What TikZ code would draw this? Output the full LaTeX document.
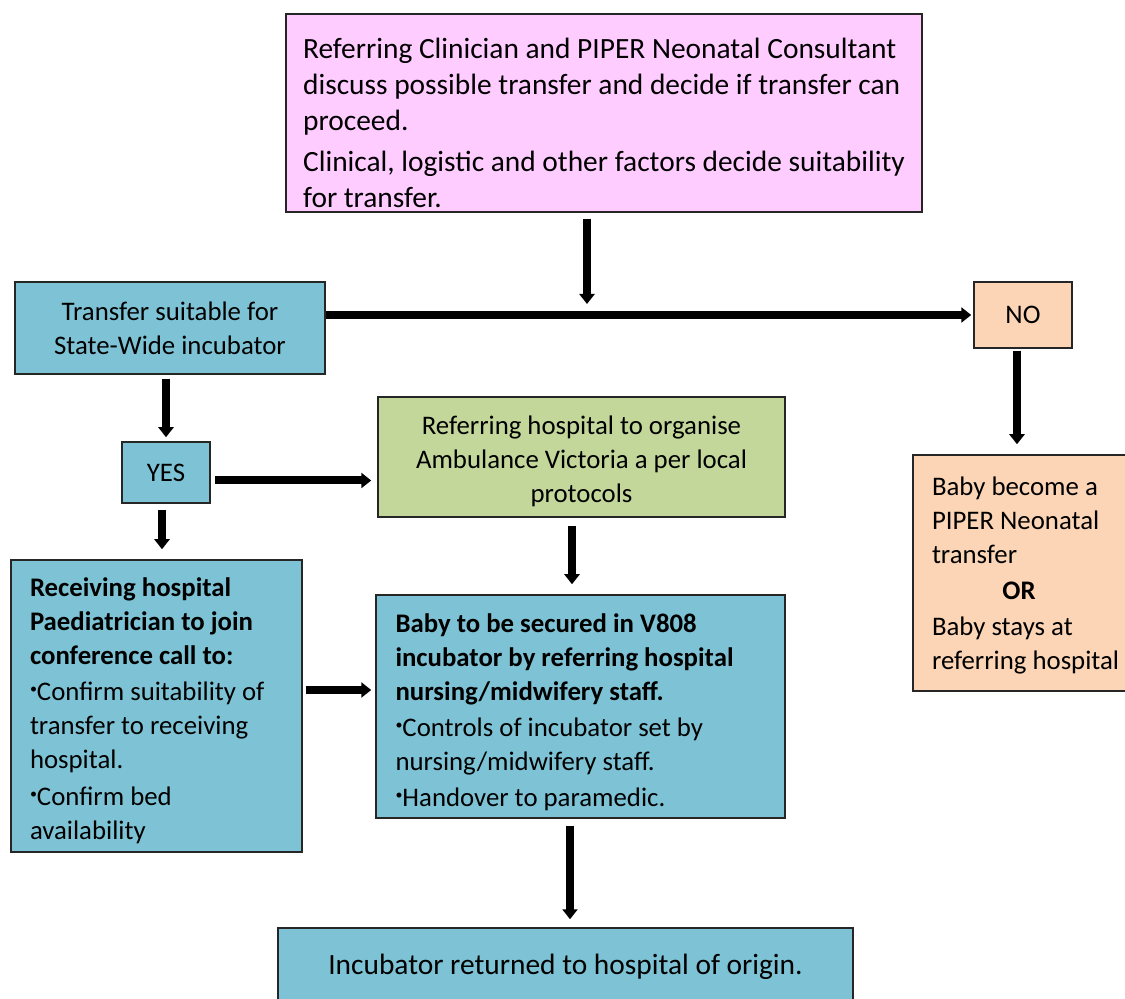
\documentclass[tikz,border=0pt]{standalone}
\usepackage{fontspec}
\setmainfont{Carlito}
\usetikzlibrary{arrows.meta}
\definecolor{pinkfill}{HTML}{FFCCFF}
\definecolor{bluefill}{HTML}{7DC3D5}
\definecolor{greenfill}{HTML}{C4D79B}
\definecolor{peachfill}{HTML}{FBD5B5}
\hyphenpenalty=10000
\newcommand{\bulletmark}{\raisebox{0.55ex}{\scriptsize\textbullet}}
\newcommand{\natspace}{\spaceskip=0pt\xspaceskip=0pt\relax}
\tikzset{
  box/.style={draw=black!85, line width=0.75pt, inner sep=0pt,
    font=\fontsize{13.4}{17}\selectfont},
  bigtext/.style={font=\fontsize{14.7}{18}\selectfont},
  leftbox/.style={box, align=left, inner xsep=9.5pt, execute at begin node=\natspace},
  arr/.style={line width=4pt, -{Triangle[width=7.5pt,length=5pt]}},
}
\begin{document}
\begin{tikzpicture}[x=0.5pt,y=-0.5pt]
        \useasboundingbox (0,0) rectangle (1125,999);
        \node[box, bigtext, align=left, fill=pinkfill, minimum width=318pt, minimum height=99pt] (consult) at (604,113)
            {\rule{0pt}{20pt}Referring Clinician and PIPER Neonatal Consultant\\discuss possible transfer and decide if transfer can\\proceed.\\[2.5pt]Clinical, logistic and other factors decide suitability\\for transfer.};
        \node[box, fill=bluefill, align=center, minimum width=155pt, minimum height=46pt] (suitable) at (170,328)
            {Transfer suitable for\\State-Wide incubator};
        \node[box, fill=peachfill, minimum width=49pt, minimum height=33pt] (no) at (1023,315) {NO};
        \node[box, fill=bluefill, minimum width=44pt, minimum height=30.5pt] (yes) at (166,472.5) {YES};
        \node[box, fill=greenfill, align=center, minimum width=203.5pt, minimum height=60pt] (ambulance) at (581.5,457)
            {\rule{0pt}{14pt}Referring hospital to organise\\Ambulance Victoria a per local\\protocols};
        \node[leftbox, fill=bluefill, minimum width=145.5pt, minimum height=146pt, text width=126.5pt] (receiving) at (156.5,706)
            {\rule{0pt}{14pt}\textbf{Receiving hospital}\\\textbf{Paediatrician to join}\\\textbf{conference call to:}\\[1pt]\bulletmark Confirm suitability of\\transfer to receiving\\hospital.\\[1.5pt]\bulletmark Confirm bed\\availability};
        \node[leftbox, fill=bluefill, minimum width=204.5pt, minimum height=111.5pt, text width=185pt] (secure) at (580.5,706.5)
            {\rule{0pt}{15pt}\textbf{Baby to be secured in V808}\\\textbf{incubator by referring hospital}\\\textbf{nursing/midwifery staff.}\\[1pt]\bulletmark Controls of incubator set by\\nursing/midwifery staff.\\[1pt]\bulletmark Handover to paramedic.};
        \node[leftbox, fill=peachfill, minimum width=116pt, minimum height=118pt, text width=97pt] (piper) at (1029,573)
            {\rule{0pt}{12pt}Baby become a\\PIPER Neonatal\\transfer\\[1pt]\hspace*{-5pt}\makebox[\linewidth]{\textbf{OR}}\\[1pt]Baby stays at\\referring hospital};
        \node[box, bigtext, fill=bluefill, minimum width=287.5pt, minimum height=38.5pt] (returned) at (565.5,966.5)
            {Incubator returned to hospital of origin.};
        \coordinate (meet) at (587,304);
        \path[draw,arr] ([yshift=-3pt]consult.south -| meet) -- (meet);
        \path[draw,arr,shorten >=1pt] (suitable.east |- no.west) -- (no.west);
        \path[draw,arr,shorten <=2pt,shorten >=2pt] (yes.north |- suitable.south) -- (yes.north);
        \path[draw,arr,shorten <=2pt,shorten >=3pt] ([yshift=-4pt]yes.east) -- ([yshift=-4pt]yes.east -| ambulance.west);
        \path[draw,arr,shorten <=3pt,shorten >=5pt] ([xshift=-2pt]yes.south) -- ([xshift=-2pt]yes.south |- receiving.north);
        \path[draw,arr,shorten <=4pt,shorten >=5pt] ([xshift=-4.75pt]ambulance.south) -- ([xshift=-4.75pt]ambulance.south |- secure.north);
        \path[draw,arr,shorten <=1.5pt,shorten >=2pt] ([yshift=8pt]receiving.east) -- ([yshift=8pt]receiving.east -| secure.west);
        \path[draw,arr,shorten <=3.5pt,shorten >=4pt] ([xshift=-5.25pt]secure.south) -- ([xshift=-5.25pt]secure.south |- returned.north);
        \path[draw,arr,shorten <=1pt,shorten >=5pt] ([xshift=-3pt]no.south) -- ([xshift=-3pt]no.south |- piper.north);
    \end{tikzpicture}
\end{document}
